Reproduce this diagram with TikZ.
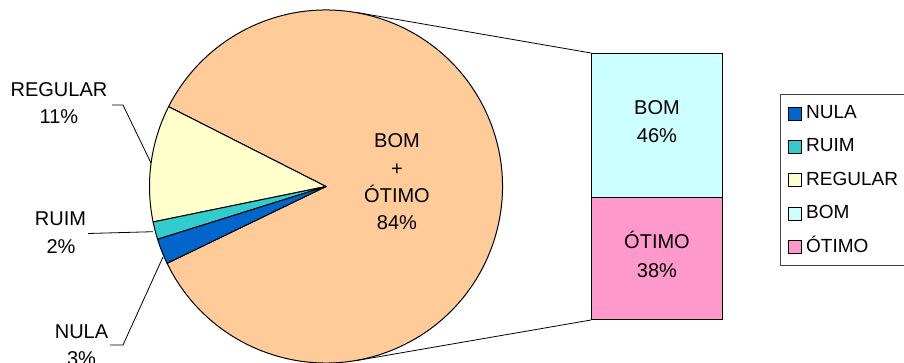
\documentclass[tikz,border=0pt]{standalone}
\usepackage{fontspec}
\setmainfont{Liberation Sans}
\definecolor{cBig}{HTML}{FFCC99}
\definecolor{cReg}{HTML}{FFFFCC}
\definecolor{cRuim}{HTML}{33CCCC}
\definecolor{cNula}{HTML}{0066CC}
\definecolor{cBom}{HTML}{CCFFFF}
\definecolor{cOtimo}{HTML}{FF99CC}
\tikzset{
  lbl/.style={anchor=base, inner sep=0pt, font=\fontsize{20}{24}\selectfont},
  leg/.style={anchor=base west, inner sep=0pt, font=\fontsize{19}{23}\selectfont},
  wedge/.style={draw=black, line width=1pt, line join=round},
  leader/.style={draw=black, line width=0.8pt},
  swatch/.style={draw=black, line width=0.9pt, minimum size=13pt, inner sep=0pt},
}
\begin{document}
\begin{tikzpicture}[x=1pt,y=1pt]
\useasboundingbox (0,0) rectangle (904,-363);
\fill[white] (0,0) rectangle (904,-363);
% pie geometry
\def\R{176.5}
\coordinate (c) at (326,-186.5);
\node[circle, minimum size=353pt, inner sep=0pt, draw=none] (pie) at (c) {};
% wedges
\filldraw[wedge, fill=cBig] (c) -- ++(205.8:\R) arc[start angle=205.8, end angle=513.1, radius=\R] -- cycle;
\filldraw[wedge, fill=cReg] (c) -- ++(153.1:\R) arc[start angle=153.1, end angle=191.6, radius=\R] -- cycle;
\filldraw[wedge, fill=cRuim] (c) -- ++(191.6:\R) arc[start angle=191.6, end angle=197.4, radius=\R] -- cycle;
\filldraw[wedge, fill=cNula] (c) -- ++(197.4:\R) arc[start angle=197.4, end angle=205.8, radius=\R] -- cycle;
% bar
\node[draw=black, line width=1pt, fill=cBom, minimum width=131pt, minimum height=144pt, inner sep=0pt, anchor=north west] (bom) at (591,-53) {};
\node[draw=black, line width=1pt, fill=cOtimo, minimum width=131pt, minimum height=122pt, inner sep=0pt, anchor=north west] (otimo) at (591,-197) {};
% connectors pie -> bar
\draw[leader] (pie.80.2) -- (bom.north west);
\draw[leader] (pie.-80.1) -- (otimo.south west);
% pie centre text
\node[lbl] (t1) at (397,-148) {BOM};
\node[lbl] (t2) at (397,-175.5) {+};
\node[lbl] (t3) at (397,-203) {ÓTIMO};
\node[lbl] (t4) at (397,-230) {84\%};
% bar text
\node[lbl] (b1) at (657,-115) {BOM};
\node[lbl] (b2) at (657,-143) {46\%};
\node[lbl] (o1) at (657,-249) {ÓTIMO};
\node[lbl] (o2) at (657,-277) {38\%};
% outside labels
\node[lbl] (reg1) at (59,-97) {REGULAR};
\node[lbl] (reg2) at (59,-124) {11\%};
\node[lbl] (ru1) at (60.5,-226) {RUIM};
\node[lbl] (ru2) at (61,-253.5) {2\%};
\node[lbl] (nu1) at (81.5,-338) {NULA};
\node[lbl] (nu2) at (81.5,-365) {3\%};
% leader lines
\coordinate (regA) at (112,-105);
\coordinate (regB) at (123,-105);
\coordinate (regC) at (151,-163);
\draw[leader] (regA) -- (regB) -- (regC);
\coordinate (ruA) at (88,-233.5);
\coordinate (ruB) at (153,-231.7);
\draw[leader] (ruA) -- (ruB);
\coordinate (nuA) at (110,-345);
\coordinate (nuB) at (123,-345);
\coordinate (nuC) at (163,-257);
\draw[leader] (nuA) -- (nuB) -- (nuC);
% legend
\draw[draw=black!75, line width=0.9pt] (906,-94) -- (780,-94) -- (780,-265) -- (906,-265);
\node[swatch, fill=cNula] (s1) at (795,-113.5) {};
\node[swatch, fill=cRuim] (s2) at (795,-146.9) {};
\node[swatch, fill=cReg] (s3) at (795,-180.3) {};
\node[swatch, fill=cBom] (s4) at (795,-213.7) {};
\node[swatch, fill=cOtimo] (s5) at (795,-247.1) {};
\node[leg] (l1) at (806,-118.5) {NULA};
\node[leg] (l2) at (806,-151.9) {RUIM};
\node[leg] (l3) at (806,-185.3) {REGULAR};
\node[leg] (l4) at (806,-218.7) {BOM};
\node[leg] (l5) at (806,-252.1) {ÓTIMO};
\end{tikzpicture}
\end{document}
